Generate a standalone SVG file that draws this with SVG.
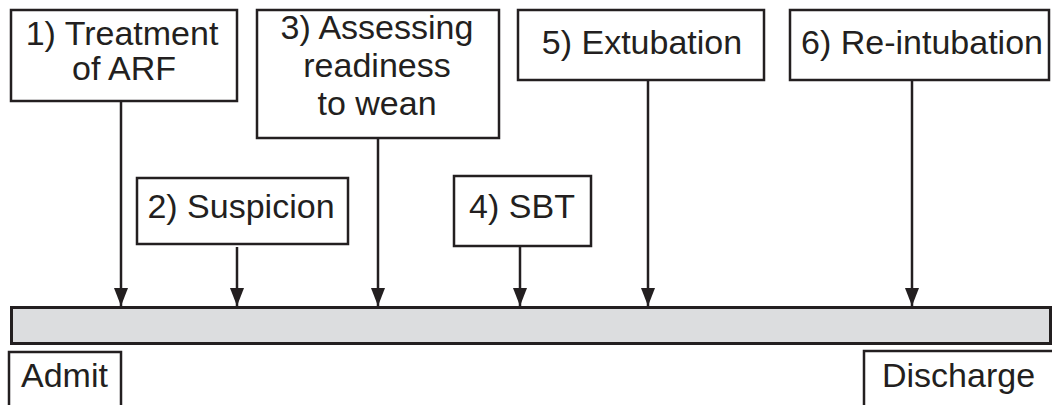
<svg xmlns="http://www.w3.org/2000/svg" width="1052" height="405" viewBox="0 0 1052 405">
  <defs>
    <style>
      .box { fill: #ffffff; stroke: #231f20; stroke-width: 2.5; }
      .bar { fill: #dcdddf; stroke: #231f20; stroke-width: 3; }
      .lbl { font-family: "Liberation Sans", Arial, sans-serif; font-size: 34px; fill: #231f20; text-anchor: middle; }
      .lbl.start { text-anchor: start; }
      .conn { stroke: #231f20; stroke-width: 2.5; fill: none; marker-end: url(#arrow); }
    </style>
    <!-- filled triangular head, pointing along the line direction -->
    <marker id="arrow" markerWidth="18" markerHeight="14" refX="18" refY="7" orient="auto" markerUnits="userSpaceOnUse" viewBox="0 0 18 14">
      <path d="M0,0 L18,7 L0,14 Z" fill="#231f20"/>
    </marker>
  </defs>

  <rect width="1052" height="405" fill="#ffffff"/>

  <!-- timeline bar -->
  <g id="timeline">
    <rect class="bar" x="11.5" y="307.5" width="1039" height="36"/>
  </g>

  <!-- connectors from event boxes down to the timeline -->
  <g id="connectors">
    <line class="conn" x1="121" y1="101" x2="121" y2="306"/>
    <line class="conn" x1="237" y1="247" x2="237" y2="306"/>
    <line class="conn" x1="378" y1="138" x2="378" y2="306"/>
    <line class="conn" x1="520" y1="246" x2="520" y2="306"/>
    <line class="conn" x1="648" y1="80" x2="648" y2="306"/>
    <line class="conn" x1="912" y1="80" x2="912" y2="306"/>
  </g>

  <g id="node-treatment">
    <rect class="box" x="11" y="10" width="226" height="91"/>
    <text class="lbl" x="122" y="45">1) Treatment</text>
    <text class="lbl" x="124" y="80">of ARF</text>
  </g>

  <g id="node-suspicion">
    <rect class="box" x="137" y="178" width="211" height="66"/>
    <text class="lbl" x="241" y="218">2) Suspicion</text>
  </g>

  <g id="node-assessing">
    <rect class="box" x="257" y="10" width="242" height="128"/>
    <text class="lbl" x="377" y="39">3) Assessing</text>
    <text class="lbl" x="377" y="77">readiness</text>
    <text class="lbl" x="377" y="115">to wean</text>
  </g>

  <g id="node-sbt">
    <rect class="box" x="454" y="176" width="137" height="70"/>
    <text class="lbl" x="522" y="218">4) SBT</text>
  </g>

  <g id="node-extubation">
    <rect class="box" x="518" y="10" width="246" height="70"/>
    <text class="lbl" x="642" y="54">5) Extubation</text>
  </g>

  <g id="node-reintubation">
    <rect class="box" x="790" y="10" width="259" height="70"/>
    <text class="lbl" x="922" y="54">6) Re-intubation</text>
  </g>

  <g id="node-admit">
    <rect class="box" x="9" y="352" width="112" height="70"/>
    <text class="lbl start" x="21" y="387">Admit</text>
  </g>

  <g id="node-discharge">
    <rect class="box" x="864" y="351" width="200" height="70"/>
    <text class="lbl start" x="882" y="387">Discharge</text>
  </g>
</svg>
